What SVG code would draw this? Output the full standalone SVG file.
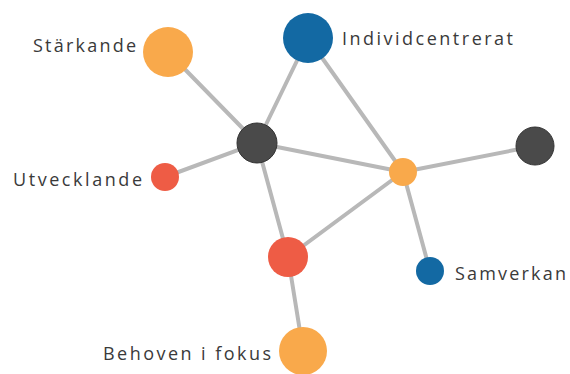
<svg xmlns="http://www.w3.org/2000/svg" width="570" height="374" viewBox="0 0 570 374">
<style>
.e{stroke:#b8b8b8;stroke-width:4;stroke-linecap:round}
.o{fill:#f9a94b}
.b{fill:#1369a3}
.r{fill:#ee5c45}
.k{fill:#4a4a4a;stroke:#333;stroke-width:1}
.t{font-family:"Open Sans","Liberation Sans",sans-serif;font-size:18px;fill:#3a3a3a;letter-spacing:1px}
</style>
<rect width="570" height="374" fill="#fff"/>
<g id="connectors">
<line class="e" x1="168" y1="52" x2="257" y2="143"/>
<line class="e" x1="308" y1="38" x2="257" y2="143"/>
<line class="e" x1="165" y1="177" x2="257" y2="143"/>
<line class="e" x1="257" y1="143" x2="403" y2="172"/>
<line class="e" x1="257" y1="143" x2="288" y2="257"/>
<line class="e" x1="308" y1="38" x2="403" y2="172"/>
<line class="e" x1="403" y1="172" x2="535" y2="146"/>
<line class="e" x1="403" y1="172" x2="430" y2="271"/>
<line class="e" x1="403" y1="172" x2="288" y2="257"/>
<line class="e" x1="288" y1="257" x2="303" y2="350"/>
</g>
<g id="n-starkande"><circle class="o" cx="168" cy="52" r="25"/><text class="t" x="137" y="52" text-anchor="end" textLength="104">Stärkande</text></g>
<g id="n-individcentrerat"><circle class="b" cx="308" cy="38" r="25"/><text class="t" x="342" y="45" textLength="172">Individcentrerat</text></g>
<g id="n-hub"><circle class="k" cx="257" cy="143" r="20"/></g>
<g id="n-utvecklande"><circle class="r" cx="165" cy="177" r="14"/><text class="t" x="13" y="186" textLength="130">Utvecklande</text></g>
<g id="n-hub2"><circle class="o" cx="403" cy="172" r="14"/></g>
<g id="n-right"><circle class="k" cx="535" cy="146" r="19"/></g>
<g id="n-red"><circle class="r" cx="288" cy="257" r="20"/></g>
<g id="n-samverkan"><circle class="b" cx="430" cy="271" r="14"/><text class="t" x="455" y="280" textLength="112">Samverkan</text></g>
<g id="n-behoven"><circle class="o" cx="303" cy="351" r="24"/><text class="t" x="103" y="360" textLength="169">Behoven i fokus</text></g>
</svg>
